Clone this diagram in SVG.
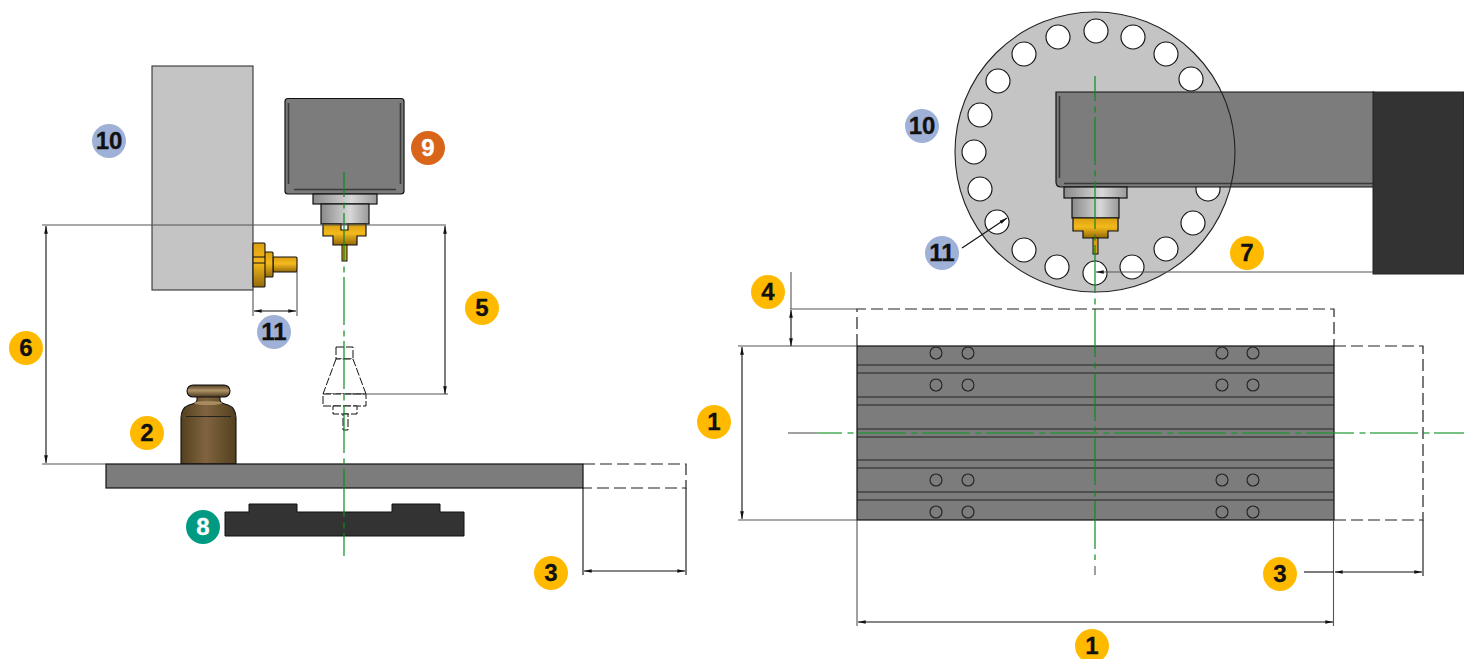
<svg xmlns="http://www.w3.org/2000/svg" width="1464" height="659" viewBox="0 0 1464 659">
<style>
.d{stroke:#111;stroke-width:1.1;fill:none}
.l{stroke:#555;stroke-width:1.1;fill:none}
.e{stroke:#222;stroke-width:1.2;fill:none;stroke-dasharray:12 5}
.c{stroke:#0a8a1e;stroke-width:1.2;fill:none;stroke-dasharray:48 5.500 6 4.500;stroke-dashoffset:23}
.p{stroke:#1a9a30;stroke-width:1.8;opacity:.6;fill:none;stroke-dasharray:48 5.500 6 4.500;stroke-dashoffset:23}
.k{stroke:#777;stroke-width:1.4}
.g{fill:#7c7c7c;stroke:#111;stroke-width:1.2}
.i{fill:none;stroke:#3a3a3a;stroke-width:1.6}
.h{fill:#fff;stroke:#111;stroke-width:1.1}
.o{fill:none;stroke:#222;stroke-width:1.1}
.y{fill:#ffba00}.b{fill:#9fb1d6}
.t{font-family:"Liberation Sans",Arial,sans-serif;font-weight:700;font-size:24px;text-anchor:middle;fill:#111;stroke:#111;stroke-width:.3}
.w{fill:#fff;stroke:#fff}
</style>
<defs>
<marker id="a" viewBox="0 0 7 5" refX="7" refY="2.5" markerWidth="7" markerHeight="5" orient="auto-start-reverse"><path d="M0 .8L7 2.5L0 4.2z" fill="#111"/></marker>
<linearGradient id="s" x1="0" x2="1" y1="0" y2="0"><stop offset="0" stop-color="#8a8a8a"/><stop offset=".6" stop-color="#d8d8d8"/><stop offset="1" stop-color="#9a9a9a"/></linearGradient>
<linearGradient id="au" x1="0" x2="0" y1="0" y2="1"><stop offset="0" stop-color="#dca012"/><stop offset=".45" stop-color="#f3b91c"/><stop offset="1" stop-color="#94690a"/></linearGradient>
<linearGradient id="br" x1="0" x2="1" y1="0" y2="0"><stop offset="0" stop-color="#54401f"/><stop offset=".45" stop-color="#80643f"/><stop offset="1" stop-color="#54401f"/></linearGradient>
<linearGradient id="bk" x1="0" x2="0" y1="0" y2="1"><stop offset="0" stop-color="#4e3b20"/><stop offset=".45" stop-color="#b09468"/><stop offset="1" stop-color="#4a3820"/></linearGradient>
</defs>

<g id="left-plate-holder"><rect x="152" y="66" width="101" height="224" fill="#c4c4c4" stroke="#333" stroke-width="1.1"/></g>
<g id="left-head">
<rect x="285" y="98.500" width="119" height="95.500" rx="3" class="g"/>
<path class="i" d="M288.500 103V184M400.500 103V184M294 189.500H396"/>
<rect x="313" y="194" width="64" height="10" fill="url(#s)" stroke="#111" stroke-width="1.2"/>
<rect x="321" y="204" width="48" height="20" fill="url(#s)" stroke="#111" stroke-width="1.2"/>
<path d="M323 224H341V230H348V224H366V236H357V245H333V236H323z" fill="url(#au)" stroke="#111" stroke-width="1.2"/>
<rect x="342" y="245" width="5" height="16" fill="#d7a215" stroke="#111"/>
</g>
<g id="left-tool" fill="url(#au)" stroke="#111" stroke-width="1.1">
<rect x="273" y="257" width="24" height="15" rx="1"/>
<rect x="264" y="252" width="9" height="25" rx="1"/>
<rect x="253" y="243" width="12" height="44" rx="1"/>
<path d="M253 257H265M253 263H265" fill="none"/>
</g>
<g id="left-ghost" fill="#fff" stroke="#111" stroke-width="1" stroke-dasharray="8 2">
<rect x="336" y="347" width="17" height="12"/>
<path d="M336 359L323 394H366L353 359z"/>
<rect x="323" y="394" width="43" height="12"/>
<rect x="333" y="406" width="24" height="8"/>
<rect x="343" y="414" width="5" height="16"/>
</g>
<g id="weight">
<path d="M197 396H220V400Q220 403 228 405Q236 408 236 418V464H181V418Q181 408 189 405Q197 403 197 400z" fill="url(#br)" stroke="#111" stroke-width="1.1"/>
<rect x="187" y="385" width="43" height="12" rx="6" fill="url(#bk)" stroke="#111" stroke-width="1.1"/>
<ellipse cx="208" cy="403" rx="14" ry="2" fill="#a88c60"/>
<path d="M186 416.500H231" stroke="#222" stroke-width="1.1"/>
</g>
<g id="left-table">
<rect x="106" y="464" width="477" height="24" class="g"/>
<path d="M225 512H249V504H297V512H392V504H440V512H464V536H225z" fill="#333" stroke="#111"/>
</g>

<g id="right-wheel">
<circle cx="1095" cy="152" r="140" fill="#c4c4c4" stroke="#222" stroke-width="1.1"/>
<g class="h">
<circle cx="1096" cy="31" r="12"/><circle cx="1133" cy="37" r="12"/><circle cx="1166" cy="54" r="12"/><circle cx="1191" cy="79" r="12"/><circle cx="1208" cy="189" r="12"/><circle cx="1193" cy="223" r="12"/><circle cx="1166" cy="249" r="12"/><circle cx="1132" cy="267" r="12"/><circle cx="1095" cy="273" r="12"/><circle cx="1057" cy="267" r="12"/><circle cx="1024" cy="250" r="12"/><circle cx="997" cy="222" r="12"/><circle cx="980" cy="189" r="12"/><circle cx="974" cy="152" r="12"/><circle cx="980" cy="115" r="12"/><circle cx="998" cy="81" r="12"/><circle cx="1024" cy="54" r="12"/><circle cx="1058" cy="37" r="12"/>
</g>
</g>
<g id="right-arm">
<path d="M1056 92H1374V187H1061Q1056 187 1056 182z" class="g"/>
<path class="i" d="M1059.500 96V178M1064 183.500H1373"/>
<path d="M1221.500 92A140 140 0 0 1 1230.500 187" fill="none" stroke="#222" stroke-width="1.1"/>
<rect x="1373" y="92" width="91" height="182" fill="#333" stroke="#222"/>
</g>
<g id="right-head">
<rect x="1064" y="187" width="63" height="11" fill="url(#s)" stroke="#111" stroke-width="1.2"/>
<rect x="1072" y="198" width="47" height="20" fill="url(#s)" stroke="#111" stroke-width="1.2"/>
<path d="M1073 218H1118V231H1108V238H1083V231H1073z" fill="url(#au)" stroke="#111" stroke-width="1.2"/>
<rect x="1093" y="238" width="5" height="16" fill="#d7a215" stroke="#111"/>
</g>
<g id="right-plate">
<rect x="857" y="346" width="477" height="174" class="g"/>
<path d="M857 365H1334M857 373H1334M857 397H1334M857 405H1334M857 429H1334M857 437H1334M857 460H1334M857 468H1334M857 492H1334M857 500H1334" stroke="#222" fill="none" stroke-width="1.1"/>
<g class="o">
<circle cx="936" cy="353" r="6"/><circle cx="968" cy="353" r="6"/><circle cx="1222" cy="353" r="6"/><circle cx="1253" cy="353" r="6"/>
<circle cx="936" cy="385" r="6"/><circle cx="968" cy="385" r="6"/><circle cx="1222" cy="385" r="6"/><circle cx="1253" cy="385" r="6"/>
<circle cx="936" cy="480" r="6"/><circle cx="968" cy="480" r="6"/><circle cx="1222" cy="480" r="6"/><circle cx="1253" cy="480" r="6"/>
<circle cx="936" cy="512" r="6"/><circle cx="968" cy="512" r="6"/><circle cx="1222" cy="512" r="6"/><circle cx="1253" cy="512" r="6"/>
</g>
</g>

<g id="connectors">
<path class="c" d="M344 172V556"/>
<path class="c" d="M1095 76V560"/>
<path class="k" d="M1095 566V575"/>
<path class="p" d="M817 433H1464"/>
<path class="k" d="M788 433H817"/>
<path class="l" d="M42 225H446M345 394H448M42 464H106"/>
<path class="d" marker-start="url(#a)" marker-end="url(#a)" d="M46 226V463"/>
<path class="d" marker-start="url(#a)" marker-end="url(#a)" d="M445 226V394"/>
<path class="l" d="M253 290V316M297 272V316"/>
<path class="d" marker-start="url(#a)" marker-end="url(#a)" d="M254 311H296"/>
<path class="e" d="M583 464H686V488H583"/>
<path class="d" d="M583 488V575M686 488V575"/>
<path class="d" marker-start="url(#a)" marker-end="url(#a)" d="M584 571H685"/>
<path class="e" d="M857 346V309H1334V346"/>
<path class="e" d="M1334 346H1423V520H1334"/>
<path class="l" d="M738 346H857M738 520H857M790 309H857"/>
<path class="l" d="M791 272V309"/>
<path class="d" marker-start="url(#a)" marker-end="url(#a)" d="M791 310V346"/>
<path class="d" marker-start="url(#a)" marker-end="url(#a)" d="M742 347V519"/>
<path class="l" d="M857 520V626M1333.500 520V626"/>
<path class="d" marker-start="url(#a)" marker-end="url(#a)" d="M858 622H1333"/>
<path class="d" d="M1423 520V576"/>
<path class="d" d="M1304 572H1334"/>
<path class="d" marker-start="url(#a)" marker-end="url(#a)" d="M1335 572H1422"/>
<path class="l" marker-start="url(#a)" d="M1096 272H1373"/>
<path class="d" marker-end="url(#a)" d="M962 248L1007 218"/>
</g>

<g id="n1"><circle cx="714" cy="422" r="17" class="y"/><text x="714" y="430" class="t">1</text></g>
<g id="n1b"><circle cx="1092" cy="646" r="17" class="y"/><text x="1092" y="654" class="t">1</text></g>
<g id="n2"><circle cx="147" cy="433" r="17" class="y"/><text x="147" y="441" class="t">2</text></g>
<g id="n3"><circle cx="551" cy="573" r="17" class="y"/><text x="551" y="581" class="t">3</text></g>
<g id="n3b"><circle cx="1280" cy="574" r="17" class="y"/><text x="1280" y="582" class="t">3</text></g>
<g id="n4"><circle cx="768" cy="292" r="17" class="y"/><text x="768" y="300" class="t">4</text></g>
<g id="n5"><circle cx="482" cy="308" r="17" class="y"/><text x="482" y="316" class="t">5</text></g>
<g id="n6"><circle cx="26" cy="348" r="17" class="y"/><text x="26" y="356" class="t">6</text></g>
<g id="n7"><circle cx="1247" cy="253" r="17" class="y"/><text x="1247" y="261" class="t">7</text></g>
<g id="n8"><circle cx="203" cy="527" r="17" fill="#009a82"/><text x="203" y="535" class="t w">8</text></g>
<g id="n9"><circle cx="428" cy="148" r="17" fill="#d8651a"/><text x="428" y="156" class="t w">9</text></g>
<g id="n10"><circle cx="109" cy="141" r="17" class="b"/><text x="109" y="149" class="t">10</text></g>
<g id="n10b"><circle cx="922" cy="126" r="17" class="b"/><text x="922" y="134" class="t">10</text></g>
<g id="n11"><circle cx="274" cy="332" r="17" class="b"/><text x="274" y="340" class="t">11</text></g>
<g id="n11b"><circle cx="942" cy="253" r="17" class="b"/><text x="942" y="261" class="t">11</text></g>
</svg>
